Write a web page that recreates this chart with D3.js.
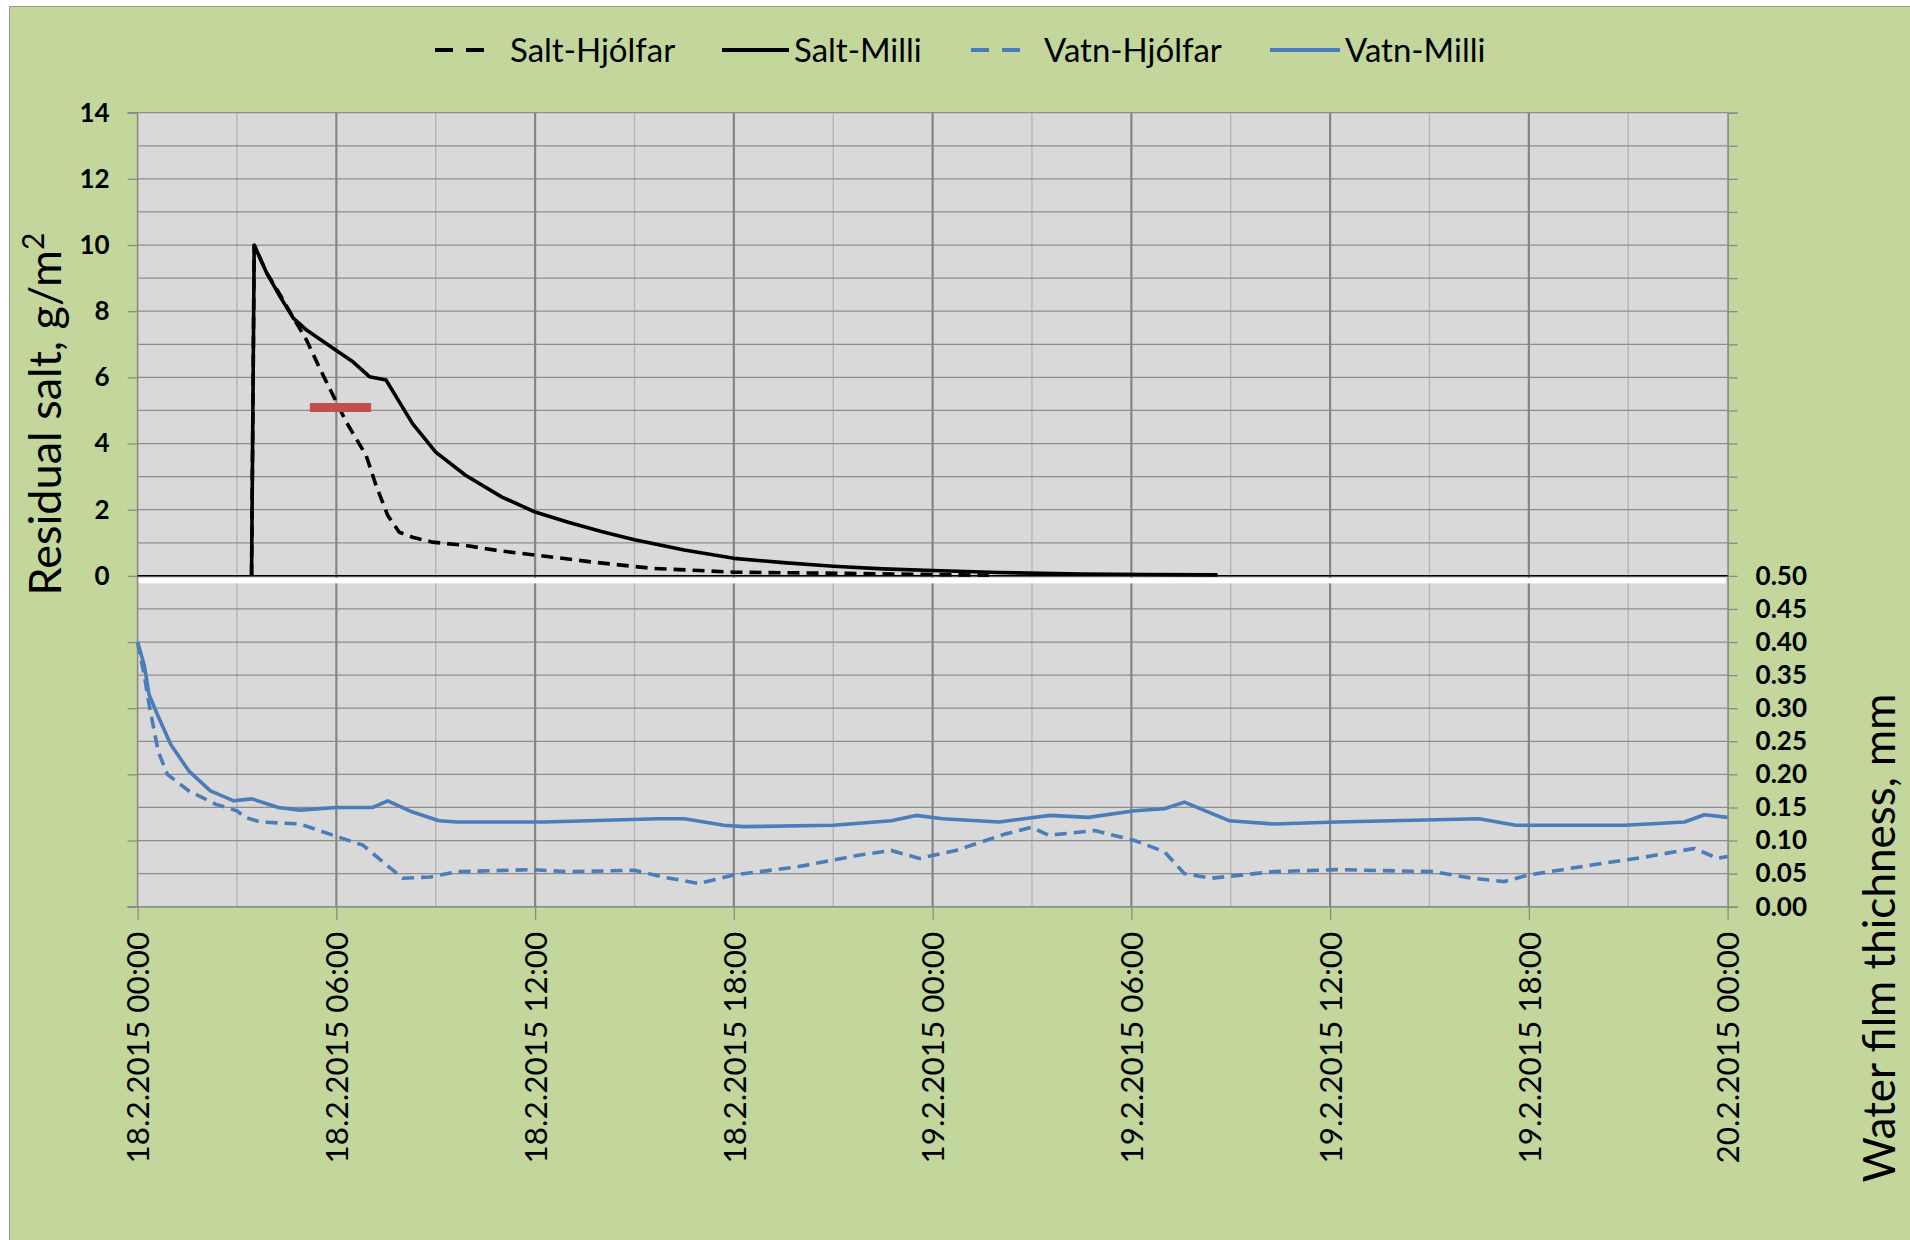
<!DOCTYPE html>
<html><head><meta charset="utf-8">
<script src="https://cdn.jsdelivr.net/npm/d3@7"></script>
<style>
body{margin:0;background:#fff;}
svg{display:block;font-family:Lato,"Open Sans",sans-serif;}
</style>
</head><body>
<svg id="chart" width="1910" height="1240"></svg>
<script>
// ---------------- DATA ----------------
const seriesNames = ["Salt-Hjólfar", "Salt-Milli", "Vatn-Hjólfar", "Vatn-Milli"];
const xTickLabels = ["18.2.2015 00:00","18.2.2015 06:00","18.2.2015 12:00","18.2.2015 18:00",
  "19.2.2015 00:00","19.2.2015 06:00","19.2.2015 12:00","19.2.2015 18:00","20.2.2015 00:00"];
const xTickHours = [0, 6, 12, 18, 24, 30, 36, 42, 48];
const leftTickValues = [-10,-8,-6,-4,-2,0,2,4,6,8,10,12,14];
const leftTickLabels = ["","","","","","0","2","4","6","8","10","12","14"];
const rightTickLabels = ["0.00","0.05","0.10","0.15","0.20","0.25","0.30","0.35","0.40","0.45","0.50"];

// hours since 18.2.2015 00:00 ; residual salt g/m2
const saltMilliHours  = [3.44, 3.52, 3.9, 4.3, 4.7, 5.1, 5.9, 6.5, 7.0, 7.5, 7.9, 8.3, 9.0, 9.9, 11.0, 12.0, 13.0, 14.0, 15.0, 16.5, 18.0, 19.5, 21.0, 22.5, 24.0, 26.0, 28.5, 30.5, 32.6];
const saltMilliValues = [0, 10.0, 9.15, 8.44, 7.79, 7.43, 6.88, 6.47, 6.02, 5.92, 5.26, 4.60, 3.74, 3.04, 2.38, 1.93, 1.62, 1.34, 1.09, 0.78, 0.53, 0.40, 0.29, 0.21, 0.16, 0.10, 0.055, 0.04, 0.03];

const saltHjolfarHours  = [3.44, 3.52, 3.9, 4.3, 4.7, 5.1, 5.5, 5.9, 6.3, 6.9, 7.2, 7.55, 7.9, 8.3, 8.9, 9.9, 10.9, 12.0, 13.8, 15.5, 18.0, 21.4, 24.0, 25.7];
const saltHjolfarValues = [0, 10.0, 9.15, 8.5, 7.8, 7.13, 6.27, 5.46, 4.65, 3.64, 2.73, 1.83, 1.32, 1.17, 1.02, 0.92, 0.76, 0.63, 0.41, 0.23, 0.11, 0.075, 0.04, 0.02];

// water film thickness, mm
const vatnMilliHours  = [0, 0.2, 0.35, 0.6, 1.0, 1.55, 2.2, 2.9, 3.45, 4.25, 4.9, 6.0, 7.1, 7.55, 8.3, 9.1, 9.65, 12.3, 15.7, 16.5, 17.7, 18.3, 21.0, 22.75, 23.5, 24.3, 26.0, 27.55, 28.7, 30.1, 31.0, 31.6, 32.95, 34.3, 36.2, 40.5, 41.6, 44.9, 46.7, 47.3, 48];
const vatnMilliValues = [0.40, 0.365, 0.32, 0.29, 0.245, 0.205, 0.175, 0.16, 0.163, 0.15, 0.146, 0.15, 0.15, 0.16, 0.143, 0.13, 0.128, 0.128, 0.133, 0.133, 0.123, 0.121, 0.123, 0.13, 0.138, 0.133, 0.128, 0.138, 0.135, 0.145, 0.148, 0.158, 0.13, 0.125, 0.128, 0.133, 0.123, 0.123, 0.128, 0.139, 0.135];

const vatnHjolfarHours  = [0, 0.2, 0.35, 0.62, 0.9, 1.55, 2.35, 3.0, 3.25, 3.7, 4.9, 5.9, 6.8, 7.35, 8.0, 8.85, 9.65, 11.9, 13.0, 15.0, 15.85, 16.95, 18.0, 19.9, 21.8, 22.75, 23.6, 24.7, 26.2, 27.0, 27.5, 28.9, 30.1, 31.0, 31.6, 32.4, 34.3, 36.2, 39.1, 40.3, 41.25, 42.0, 43.9, 45.5, 47.0, 47.7, 48];
const vatnHjolfarValues = [0.40, 0.35, 0.305, 0.235, 0.2, 0.175, 0.155, 0.145, 0.135, 0.128, 0.125, 0.108, 0.093, 0.07, 0.043, 0.045, 0.053, 0.056, 0.053, 0.055, 0.045, 0.035, 0.048, 0.06, 0.078, 0.085, 0.073, 0.085, 0.11, 0.12, 0.108, 0.115, 0.1, 0.083, 0.05, 0.043, 0.053, 0.056, 0.053, 0.043, 0.038, 0.048, 0.063, 0.075, 0.088, 0.073, 0.076];

// red annotation bar: start hour, end hour, salt level
const annotationBar = [5.2, 7.05, 5.09];

// ---------------- LAYOUT ----------------
const svg = d3.select("#chart");
const L = 137.6, R = 1727.6, T = 112.7, B = 906.7;
const x = d3.scaleLinear().domain([0, 48]).range([L, R]);
const yL = d3.scaleLinear().domain([-10, 14]).range([B, T]);
const yR = d3.scaleLinear().domain([0, 1.2]).range([B, T]);

const green = "#c3d69b", plotBg = "#d9d9d9", blue = "#4a7dba";

svg.append("rect").attr("x", 9.5).attr("y", 6.5).attr("width", 1910).attr("height", 1240)
  .attr("fill", green).attr("stroke", "#9a9a9a").attr("stroke-width", 1);

svg.append("rect").attr("x", L).attr("y", T).attr("width", R - L).attr("height", B - T).attr("fill", plotBg);

const grid = svg.append("g");
grid.selectAll(".vmin").data(d3.range(3, 48, 6)).join("line")
  .attr("x1", d => x(d)).attr("x2", d => x(d)).attr("y1", T).attr("y2", B)
  .attr("stroke", "#b3b3b3").attr("stroke-width", 1.3);
grid.selectAll(".h").data(d3.range(-10, 15, 1)).join("line")
  .attr("x1", L).attr("x2", R).attr("y1", d => yL(d)).attr("y2", d => yL(d))
  .attr("stroke", "#8e8e8e").attr("stroke-width", 1.2);
grid.selectAll(".vmaj").data(d3.range(6, 48, 6)).join("line")
  .attr("x1", d => x(d)).attr("x2", d => x(d)).attr("y1", T).attr("y2", B)
  .attr("stroke", "#858585").attr("stroke-width", 2.2);

// white separator band below zero
svg.append("rect").attr("x", L).attr("y", yL(0) + 2).attr("width", R - L - 2).attr("height", 5.5).attr("fill", "#ffffff");

// axes
const axisColor = "#8a8a8a";
const gL = svg.append("g").attr("transform", `translate(${L},0)`)
  .call(d3.axisLeft(yL).tickValues(leftTickValues).tickSize(10).tickPadding(18)
    .tickFormat((d, i) => leftTickLabels[i]));
const gR = svg.append("g").attr("transform", `translate(${R},0)`)
  .call(d3.axisRight(yR).tickValues(d3.range(0, 24.5, 1).map(k => k * 0.05)).tickSize(10).tickPadding(18)
    .tickFormat((d, i) => i < rightTickLabels.length ? rightTickLabels[i] : ""));
const gB = svg.append("g").attr("transform", `translate(0,${B})`)
  .call(d3.axisBottom(x).tickValues(xTickHours).tickSize(13).tickFormat((d, i) => xTickLabels[i]));

[gL, gR, gB].forEach(g => {
  g.select(".domain").attr("stroke", axisColor).attr("stroke-width", 1.6);
  g.selectAll(".tick line").attr("stroke", axisColor).attr("stroke-width", 1.3);
  g.selectAll("text").attr("fill", "#000").style("font-family", "Lato");
});
gL.select(".domain").attr("d", `M-10,${B}H0V${T}H-10`);
gL.selectAll("text").style("font-size", "26px").style("font-weight", "bold");
gR.selectAll("text").style("font-size", "26px").style("font-weight", "bold");
gB.select(".domain").attr("d", `M${L - 10},0H${R}`);
gB.selectAll("text").style("font-size", "31.5px")
  .attr("transform", "rotate(-90)").attr("text-anchor", "end")
  .attr("x", -25).attr("y", 0).attr("dy", "0.36em");

// black zero axis line for salt
svg.append("line").attr("x1", L).attr("x2", R).attr("y1", yL(0)).attr("y2", yL(0))
  .attr("stroke", "#000").attr("stroke-width", 1.5);

// series
const zip = (a, b) => a.map((h, i) => [h, b[i]]);
const lineL = d3.line().x(d => x(d[0])).y(d => yL(d[1]));
const lineR = d3.line().x(d => x(d[0])).y(d => yR(d[1]));

svg.append("path").datum(zip(vatnHjolfarHours, vatnHjolfarValues)).attr("d", lineR)
  .attr("fill", "none").attr("stroke", blue).attr("stroke-width", 3.6).attr("stroke-dasharray", "12,7");
svg.append("path").datum(zip(vatnMilliHours, vatnMilliValues)).attr("d", lineR)
  .attr("fill", "none").attr("stroke", blue).attr("stroke-width", 3.6).attr("stroke-linejoin", "round");
svg.append("path").datum(zip(saltHjolfarHours, saltHjolfarValues)).attr("d", lineL)
  .attr("fill", "none").attr("stroke", "#000").attr("stroke-width", 3.6).attr("stroke-dasharray", "12,7");
svg.append("path").datum(zip(saltMilliHours, saltMilliValues)).attr("d", lineL)
  .attr("fill", "none").attr("stroke", "#000").attr("stroke-width", 3.6).attr("stroke-linejoin", "round");

// red annotation bar
svg.append("line").attr("x1", x(annotationBar[0])).attr("x2", x(annotationBar[1]))
  .attr("y1", yL(annotationBar[2])).attr("y2", yL(annotationBar[2]))
  .attr("stroke", "#c0504d").attr("stroke-width", 9);

// axis titles
const tl = svg.append("text").attr("transform", `translate(61,414) rotate(-90)`)
  .attr("text-anchor", "middle").style("font-size", "45px").attr("fill", "#000");
tl.append("tspan").text("Residual salt, g/m");
tl.append("tspan").attr("dy", -17).style("font-size", "30px").text("2");

svg.append("text").attr("transform", `translate(1895,938) rotate(-90)`)
  .attr("text-anchor", "middle").style("font-size", "44px").attr("fill", "#000")
  .text("Water film thichness, mm");

// legend
const legendItems = [
  {name: seriesNames[0], color: "#000", dash: "18,13", x0: 435, x1: 487, tx: 510},
  {name: seriesNames[1], color: "#000", dash: null, x0: 722, x1: 789, tx: 794},
  {name: seriesNames[2], color: blue, dash: "18,13", x0: 971, x1: 1023, tx: 1044},
  {name: seriesNames[3], color: blue, dash: null, x0: 1270, x1: 1340, tx: 1345}
];
const lg = svg.append("g");
legendItems.forEach(it => {
  lg.append("line").attr("x1", it.x0).attr("x2", it.x1).attr("y1", 50).attr("y2", 50)
    .attr("stroke", it.color).attr("stroke-width", 4).attr("stroke-dasharray", it.dash);
  lg.append("text").attr("x", it.tx).attr("y", 50).attr("dy", "0.36em")
    .style("font-size", "33px").attr("fill", "#000").text(it.name);
});
</script>
</body></html>
